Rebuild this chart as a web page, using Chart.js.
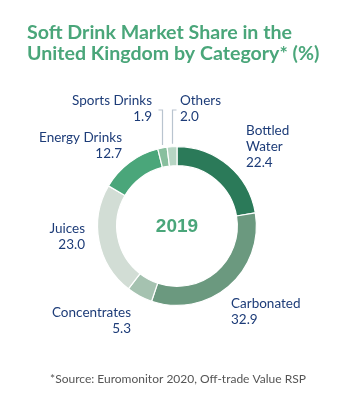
<!DOCTYPE html>
<html>
<head>
<meta charset="utf-8">
<script src="https://cdn.jsdelivr.net/npm/chart.js@4/dist/chart.umd.min.js"></script>
<style>
  html, body { margin: 0; padding: 0; background: #fff; }
  #wrap { position: relative; width: 350px; height: 399px; }
</style>
</head>
<body>
<div id="wrap"><canvas id="share-chart" width="350" height="399"></canvas></div>
<script>
// Soft drink market share, UK, 2019 (%)
const CATEGORIES = ['Bottled Water', 'Carbonated', 'Concentrates', 'Juices', 'Energy Drinks', 'Sports Drinks', 'Others'];
const SHARES     = [22.4, 32.9, 5.3, 23.0, 12.7, 1.9, 2.0];
const COLORS     = ['#2b7a59', '#6b997f', '#a5c2b0', '#d2ddd5', '#4aa67a', '#88bf9e', '#b6d5c3'];
const YEAR = '2019';

const NAVY  = '#1d3c78';
const GREEN = '#4aa67a';
const FONT  = 'Lato, "Open Sans", sans-serif';

// label placement per slice: anchor point, alignment, optional leader line
const LABEL_POS = [
  { x: 246, y: 131, align: 'left',  lines: ['Bottled', 'Water'] },
  { x: 231, y: 304, align: 'left',  lines: ['Carbonated'] },
  { x: 131, y: 313, align: 'right', lines: ['Concentrates'] },
  { x: 85,  y: 229, align: 'right', lines: ['Juices'] },
  { x: 122, y: 138, align: 'right', lines: ['Energy Drinks'] },
  { x: 152, y: 101, align: 'right', lines: ['Sports Drinks'], leader: -1 },
  { x: 180, y: 101, align: 'left',  lines: ['Others'], leader: 1 }
];

const textPlugin = {
  id: 'textPlugin',
  afterDraw(chart) {
    const ctx = chart.ctx;
    ctx.save();

    // title
    ctx.fillStyle = GREEN;
    ctx.font = 'bold 19.6px ' + FONT;
    ctx.textAlign = 'left';
    ctx.textBaseline = 'middle';
    ctx.fillText('Soft Drink Market Share in the', 27, 33);
    ctx.fillText('United Kingdom by Category* (%)', 27, 54);

    // centre year
    const arc0 = chart.getDatasetMeta(0).data[0];
    ctx.font = 'bold 19px "Liberation Sans", Arial, sans-serif';
    ctx.textAlign = 'center';
    ctx.fillText(YEAR, arc0.x, arc0.y + 1);

    // slice labels
    ctx.font = '13.5px ' + FONT;
    ctx.fillStyle = NAVY;
    const meta = chart.getDatasetMeta(0);
    LABEL_POS.forEach((p, i) => {
      ctx.textAlign = p.align;
      const rows = p.lines.concat([SHARES[i].toFixed(1)]);
      rows.forEach((t, k) => ctx.fillText(t, p.x, p.y + k * 16));

      if (p.leader) {
        const arc = meta.data[i];
        const mid = (arc.startAngle + arc.endAngle) / 2;
        const lx = Math.round(arc.x + Math.cos(mid) * (arc.outerRadius + 3)) + 0.5;
        const ly = arc.y + Math.sin(mid) * (arc.outerRadius + 3);
        ctx.strokeStyle = '#b9c4cf';
        ctx.lineWidth = 1.2;
        ctx.beginPath();
        ctx.moveTo(lx + p.leader * 4, 110);
        ctx.lineTo(lx, 110);
        ctx.lineTo(lx, ly);
        ctx.stroke();
      }
    });

    // footnote
    ctx.fillStyle = '#555';
    ctx.font = '12px ' + FONT;
    ctx.textAlign = 'center';
    ctx.fillText('*Source: Euromonitor 2020, Off-trade Value RSP', 178, 379);
    ctx.restore();
  }
};

new Chart(document.getElementById('share-chart'), {
  type: 'doughnut',
  data: {
    labels: CATEGORIES,
    datasets: [{
      data: SHARES,
      backgroundColor: COLORS,
      borderColor: '#fff',
      borderWidth: 1.2
    }]
  },
  options: {
    responsive: false,
    animation: false,
    cutout: '76%',
    layout: { padding: { left: 97, right: 93, top: 146, bottom: 93 } },
    plugins: { legend: { display: false }, tooltip: { enabled: false } }
  },
  plugins: [textPlugin]
});
</script>
</body>
</html>
